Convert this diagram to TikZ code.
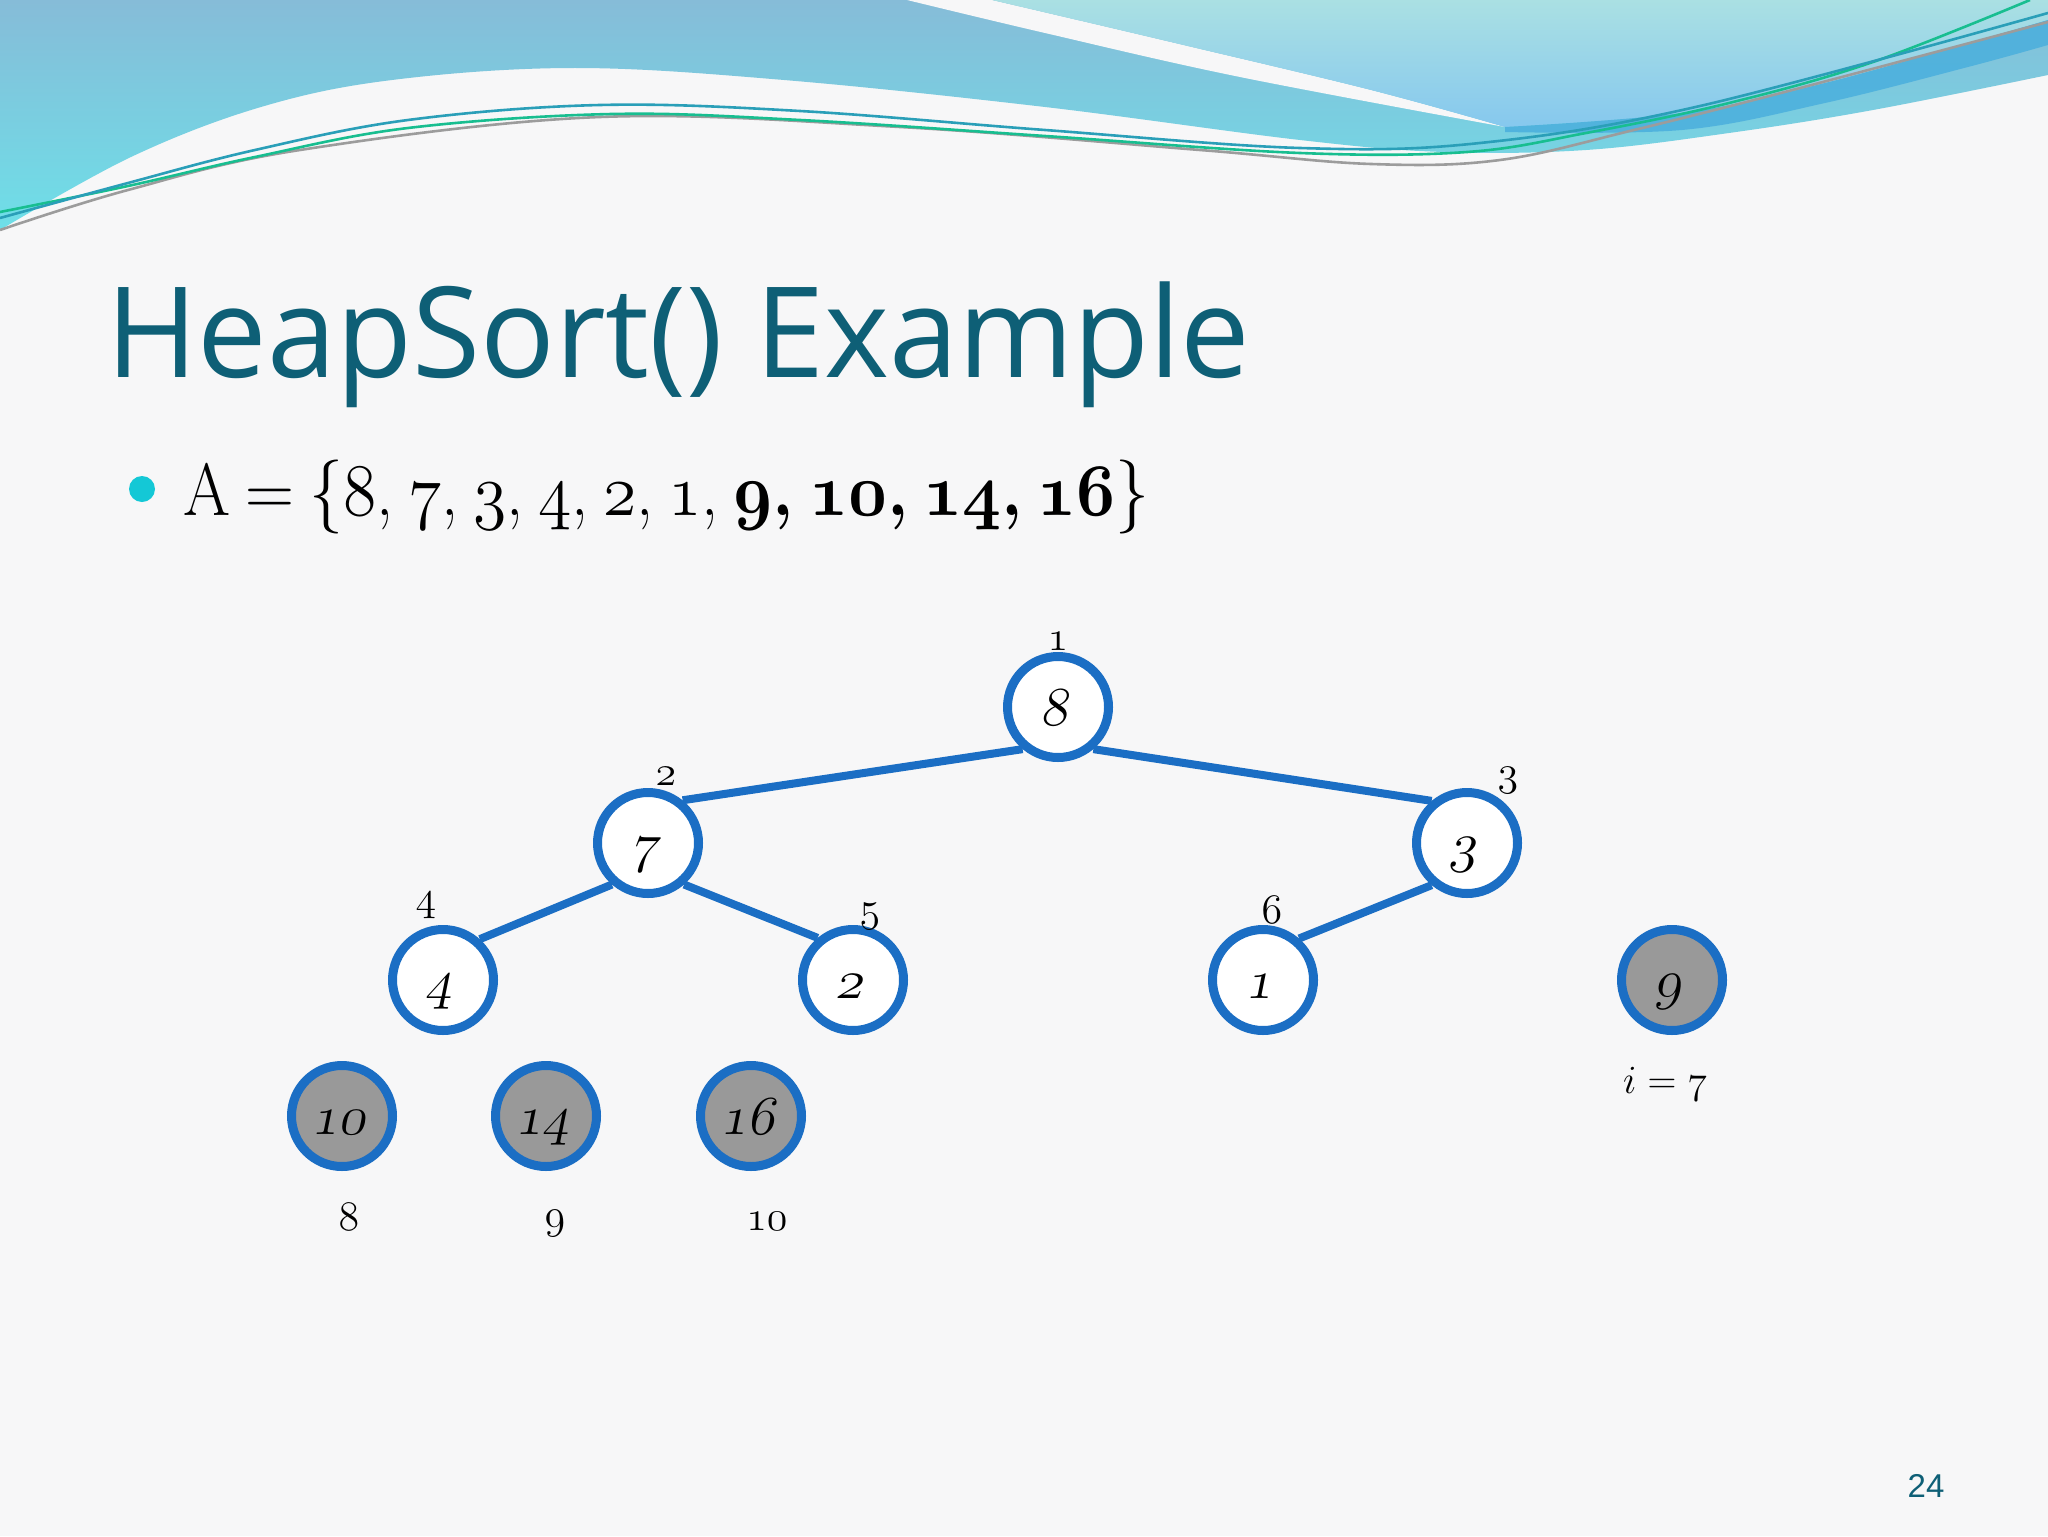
\RequirePackage{fix-cm}
\documentclass[tikz,border=0pt]{standalone}
\usepackage{fontspec}
\usepackage{graphicx}
\newfontfamily\titlefont{Open Sans}
\newfontfamily\pnfont{Liberation Sans}
\definecolor{bgcol}{HTML}{F7F7F8}
\definecolor{titlecol}{HTML}{0E5F76}
\definecolor{nodeblue}{HTML}{1B6EC4}
\definecolor{nodegray}{HTML}{999999}
\definecolor{bulletcol}{HTML}{14C8D6}
\definecolor{waveAtop}{HTML}{86BCD8}
\definecolor{waveAbot}{HTML}{6EDFE8}
\definecolor{waveBtop}{HTML}{AAE0E3}
\definecolor{waveBbot}{HTML}{86C8EE}
\definecolor{ribbon}{HTML}{4AAFDD}
\definecolor{lineteal}{HTML}{2A9FB8}
\definecolor{lineblue}{HTML}{3F8FD2}
\definecolor{linegreen}{HTML}{18BE90}
\definecolor{linegray}{HTML}{9C9C9C}
\newcommand\osf[1]{$\mathnormal{#1}$}
\begin{document}
\begin{tikzpicture}[x=0.5pt,y=-0.5pt,
  hnode/.style={circle, draw=nodeblue, line width=4.5pt, minimum size=50.5pt, inner sep=0pt, fill=white},
  gnode/.style={hnode, fill=nodegray},
  numtxt/.style={xslant=0.2, transform shape, inner sep=0pt, font=\fontsize{27.5pt}{27.5pt}\selectfont, text height=20pt, text depth=2pt},
  idx/.style={anchor=base, inner sep=0pt, font=\fontsize{21pt}{21pt}\selectfont},
  edge/.style={draw=nodeblue, line width=4pt},
  deco/.style={line width=1.3pt}
]
\useasboundingbox (0,0) rectangle (2048,1536);
\fill[bgcol] (0,0) rectangle (2048,1536);

% --- top decoration ---
\shade[top color=waveAtop, bottom color=waveAbot]
  (0,0) -- (2048,0) -- plot[smooth, tension=0.6] coordinates {(2048,75) (1873,110) (1729,133) (1586,150) (1443,152) (1300,140) (1045,107) (784,80) (575,68) (392,80) (261,107) (131,157) (0,230)} -- cycle;
\fill[bgcol] plot[smooth, tension=0.6] coordinates {(907,0) (1045,33) (1240,77) (1505,127)}
  -- plot[smooth, tension=0.6] coordinates {(1505,127) (1371,90) (1175,43) (992,0)} -- cycle;
\shade[top color=waveBtop, bottom color=waveBbot]
  (992,0) -- (2048,0) -- (2048,20)
  -- plot[smooth, tension=0.6] coordinates {(2048,20) (1968,43) (1825,83) (1682,113) (1505,127)}
  -- plot[smooth, tension=0.6] coordinates {(1505,127) (1371,90) (1175,43) (992,0)} -- cycle;
\fill[ribbon, opacity=0.85]
  plot[smooth, tension=0.6] coordinates {(1505,127) (1682,113) (1825,83) (1968,43) (2048,20)}
  -- (2048,45)
  -- plot[smooth, tension=0.6] coordinates {(2048,45) (1968,67) (1825,103) (1682,130) (1505,132)} -- cycle;
\draw[deco, linegray] plot[smooth, tension=0.6] coordinates {(0,230) (128,190) (300,150) (600,117) (900,127) (1200,150) (1371,164) (1500,160) (1634,130) (1800,88) (2048,22)};
\draw[deco, linegreen] plot[smooth, tension=0.6] coordinates {(0,212) (128,186) (255,157) (408,128) (612,114) (800,120) (1045,136) (1300,153) (1467,152) (1586,133) (1729,103) (1873,62) (2030,0)};
\draw[deco, lineteal] plot[smooth, tension=0.6] coordinates {(0,218) (128,183) (255,150) (408,120) (600,105) (800,111) (1045,130) (1300,148) (1480,143) (1700,106) (2048,13)};

% --- title ---
\node[anchor=base west, inner sep=0pt, text=titlecol, font=\titlefont\fontsize{63pt}{63pt}\selectfont] (title) at (106,377)
  {\resizebox{572pt}{\height}{HeapSort() Example}};

% --- bullet line ---
\fill[bulletcol] (142,489) circle (6.5pt);
\node[anchor=base west, inner sep=0pt, font=\fontsize{37pt}{37pt}\selectfont] (arr) at (183,515)
  {\resizebox{483pt}{\height}{\spaceskip=0.22em A = \{\osf{8}, \osf{7}, \osf{3}, \osf{4}, \osf{2}, \osf{1}, {\bfseries\boldmath\osf{9}, \osf{10}, \osf{14}, \osf{16}}\}}};

% --- tree nodes ---
\node[hnode] (n8) at (1058,707) {};
\node[hnode] (n7) at (648,843) {};
\node[hnode] (n3) at (1467,843) {};
\node[hnode] (n4) at (443,980) {};
\node[hnode] (n2) at (853,980) {};
\node[hnode] (n1) at (1263,980) {};
\node[gnode] (n9) at (1672,980) {};
\node[gnode] (n10) at (342,1116) {};
\node[gnode] (n14) at (546,1116) {};
\node[gnode] (n16) at (751,1116) {};

\draw[edge] (n8.230) -- (n7.51);
\draw[edge] (n8.310) -- (n3.130);
\draw[edge] (n7.229) -- (n4.48);
\draw[edge] (n7.311) -- (n2.130);
\draw[edge] (n3.230) -- (n1.49);

\node[numtxt] (t8) at (n8) {\osf{8}};
\node[numtxt] (t7) at (n7) {\osf{7}};
\node[numtxt] (t3) at (n3) {\osf{3}};
\node[numtxt] (t4) at (n4) {\osf{4}};
\node[numtxt] (t2) at (n2) {\osf{2}};
\node[numtxt] (t1) at (n1) {\osf{1}};
\node[numtxt] (t9) at (n9) {\osf{9}};
\node[numtxt] (t10) at (n10) {\osf{10}};
\node[numtxt] (t14) at (n14) {\osf{14}};
\node[numtxt] (t16) at (n16) {\osf{16}};

% --- index labels ---
\node[idx] (i1) at (1058,650) {\osf{1}};
\node[idx] (i2) at (666,785) {\osf{2}};
\node[idx] (i3) at (1508,785) {\osf{3}};
\node[idx] (i4) at (426,910) {\osf{4}};
\node[idx] (i5) at (870,921) {\osf{5}};
\node[idx] (i6) at (1272,923) {\osf{6}};
\node[idx] (i8) at (349,1230) {\osf{8}};
\node[idx] (i9) at (555,1228) {\osf{9}};
\node[idx] (i10) at (767,1230) {\osf{10}};
\node[idx, font=\fontsize{20pt}{20pt}\selectfont] (ival) at (1665,1093) {$i = \mathnormal{7}$};

% --- page number ---
\node[anchor=base, inner sep=0pt, text=titlecol, font=\pnfont\fontsize{16.5pt}{16.5pt}\selectfont] (pg) at (1926,1497) {24};
\end{tikzpicture}
\end{document}
